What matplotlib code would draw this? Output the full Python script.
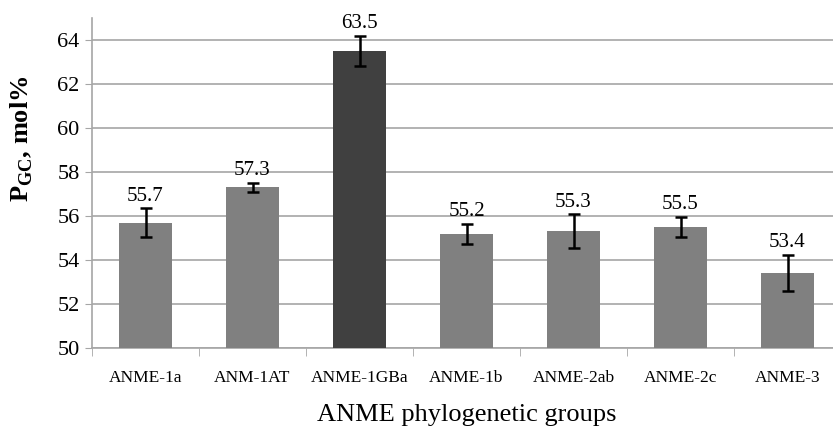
import numpy as np
import matplotlib.pyplot as plt

plt.rcParams['font.family'] = ['Liberation Serif', 'DejaVu Serif']
plt.rcParams['mathtext.fontset'] = 'custom'
plt.rcParams['mathtext.rm'] = 'Liberation Serif'
plt.rcParams['mathtext.bf'] = 'Liberation Serif:bold'

# data
groups = ['ANME-1a', 'ANM-1AT', 'ANME-1GBa', 'ANME-1b', 'ANME-2ab', 'ANME-2c', 'ANME-3']
gc_mean = [55.7, 57.3, 63.5, 55.2, 55.3, 55.5, 53.4]
gc_err = [0.65, 0.2, 0.7, 0.45, 0.77, 0.47, 0.83]
bar_colors = ['#808080', '#808080', '#404040', '#808080', '#808080', '#808080', '#808080']

fig = plt.figure(figsize=(8.33, 4.28), dpi=100)
ax = fig.add_axes([92/833, 80/428, 749/833, 330/428])

x = np.arange(len(groups))
ax.bar(x, np.array(gc_mean) - 50, bottom=50, width=0.5, color=bar_colors, zorder=3)
ax.errorbar(x, gc_mean, yerr=gc_err, fmt='none', ecolor='black', elinewidth=1.8,
            capsize=4, capthick=1.8, zorder=4)

for xi, m, e in zip(x, gc_mean, gc_err):
    ax.annotate(f'{m:.1f}', (xi, m + e), xytext=(0, 2), textcoords='offset points',
                ha='center', va='bottom', fontsize=15)

ax.set_xlim(-0.5, len(groups) - 0.5)
ax.set_ylim(50, 65)
ax.set_yticks(np.arange(50, 65, 2))
ax.yaxis.grid(True, color='#a6a6a6', lw=1.2, zorder=0)
ax.tick_params(axis='y', labelsize=16, length=5, color='#a6a6a6', pad=4)

ax.set_xticks(x)
ax.set_xticklabels(groups, fontsize=12.5)
ax.set_xticks(np.arange(len(groups) + 1) - 0.5, minor=True)
ax.tick_params(axis='x', which='major', length=0, pad=16)
ax.tick_params(axis='x', which='minor', length=6, color='#a6a6a6')

for s in ['top', 'right']:
    ax.spines[s].set_visible(False)
for s in ['left', 'bottom']:
    ax.spines[s].set_color('#a6a6a6')
    ax.spines[s].set_linewidth(1.2)

ax.set_xlabel('ANME phylogenetic groups', fontsize=19, labelpad=13)
ax.set_ylabel(r'$\mathbf{P}_{\mathbf{GC}}$, mol%', fontsize=19, fontweight='bold')
ax.yaxis.set_label_coords(-0.076, 0.633)

fig.savefig('out.png', dpi=100)
